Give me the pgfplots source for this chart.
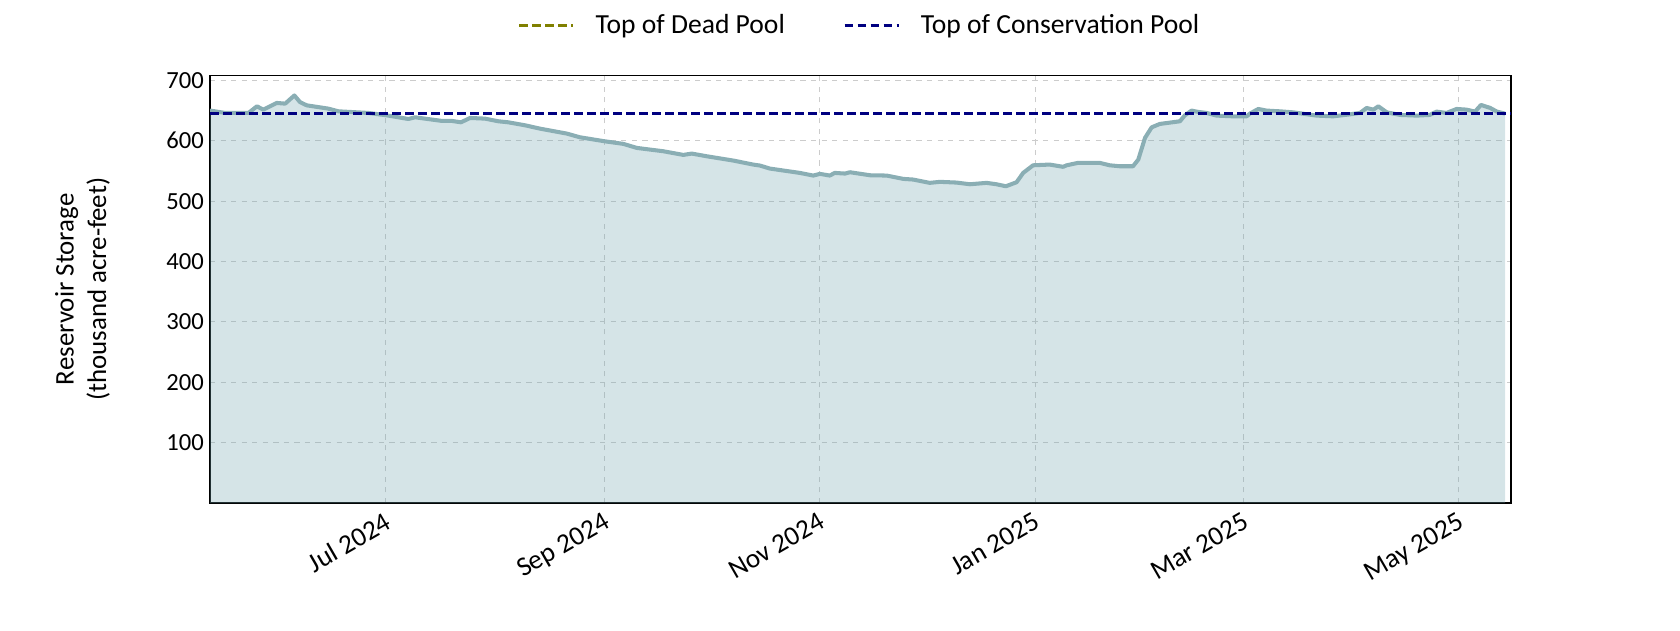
\documentclass[border=0pt]{standalone}
\usepackage{pgfplots}
\pgfplotsset{compat=1.18}
\usepackage{fontspec}
\setmainfont{Carlito}

\definecolor{storfill}{RGB}{115,165,175}
\definecolor{storline}{RGB}{138,174,180}
\definecolor{deadpool}{RGB}{128,128,0}
\definecolor{conspool}{RGB}{0,0,128}

% days counted from 1 Jul 2024
\pgfplotstableread{
day value
-49.8 650
-45.5 646
-38.9 646
-36.5 657
-34.7 651.5
-30.9 662.6
-28.5 661.4
-25.9 675
-24.3 664
-22.4 658.6
-16.3 653.2
-13.4 648.7
-4.9 646
0.3 642
6.4 636
8.3 638.8
15.9 632.8
18.7 632.8
21.3 630.5
23.9 637.7
28.1 636.6
31.9 632.2
34.7 630.5
39.5 625.5
43.7 620
51.3 611.8
55 605.7
62.1 599
67.3 594.8
71.1 588.1
78.6 582.6
84.3 576.5
86.7 578.7
90.9 574.3
98.5 567.1
104.1 560.5
106 558.9
108.8 553.9
117.3 546.7
121.1 542.3
123 545.1
125.8 542.3
127.2 546.7
130.1 545.6
131.5 547.8
137.2 542.8
141.9 542.3
146.6 536.8
149.4 535.7
154.1 530.2
157 531.9
161.7 530.7
165.5 527.9
170.2 530.2
173 527.9
175.7 524.6
178.7 531.2
180.6 546.8
183.4 559.3
188.1 560.5
191.9 556.8
192.9 559.3
196.1 563.3
202.3 563.3
205.1 559.3
208 557.7
211.7 557.7
213.2 568.8
215.1 604.7
217 622.2
219.3 627.8
225 632.2
226.4 642.1
228.3 649.9
230.2 647.7
232.6 646
235.4 641.6
240.1 640.4
243.9 640.4
244.8 644.9
247.2 652.6
249.5 649.9
253.3 648.7
257.1 647
263.7 641.6
268.4 640.4
273.2 643.7
276 646
277.9 654.3
279.8 651.5
281.2 657
283.6 647
287.4 642.7
292.1 641.6
295.8 642.7
297.7 648.2
300.5 646
303.4 652.6
306.2 651.5
308.6 648.2
310.3 659.3
312.9 654.3
314.8 648.2
317.1 644.9
}\storage

\begin{document}
\begin{tikzpicture}
\path[use as bounding box] (0,0) rectangle (336mm,126mm);
\begin{axis}[
    at={(42mm,25.4mm)}, anchor=south west,
    scale only axis, width=260.2mm, height=85.5mm,
    xmin=-49.8, xmax=318.8,
    ymin=0, ymax=708,
    xtick={0,62,123,184,243,304},
    xticklabels={Jul 2024,Sep 2024,Nov 2024,Jan 2025,Mar 2025,May 2025},
    ytick={100,200,300,400,500,600,700},
    /pgf/number format/assume math mode=true,
    x tick label style={rotate=30, anchor=north east, font=\fontsize{15.5}{18}\selectfont},
    y tick label style={font=\fontsize{14}{16}\selectfont},
    major tick length=0pt,
    grid=major,
    grid style={dashed, color=black!20, line width=0.6pt},
    axis line style={line width=1pt},
    ylabel={Reservoir Storage\\(thousand acre-feet)},
    ylabel style={align=center, font=\fontsize{15.3}{18.5}\selectfont,
        at={(axis description cs:-0.098,0.5)}, anchor=center},
    legend columns=2,
    legend style={draw=none, at={(0.5,1)}, anchor=center, yshift=10mm,
        font=\fontsize{15.7}{18}\selectfont,
        /tikz/every odd column/.append style={column sep=3.5mm},
        /tikz/every even column/.append style={column sep=11mm}},
    legend image code/.code={\draw[#1] (0mm,0mm) -- (10.8mm,0mm);},
]
\addlegendimage{deadpool, line width=1.4pt, dash pattern=on 1.7mm off 0.9mm}
\addlegendentry{Top of Dead Pool}

\addplot[forget plot, draw=none, fill=storfill, fill opacity=0.3]
    table[x=day, y=value] {\storage} \closedcycle;
\addplot[forget plot, storline, line width=2.3pt, line join=round]
    table[x=day, y=value] {\storage};

\addplot[conspool, line width=1.4pt, dash pattern=on 1.7mm off 0.9mm]
    coordinates {(-49.8,645) (318.8,645)};
\addlegendentry{Top of Conservation Pool}
\end{axis}
\end{tikzpicture}
\end{document}
